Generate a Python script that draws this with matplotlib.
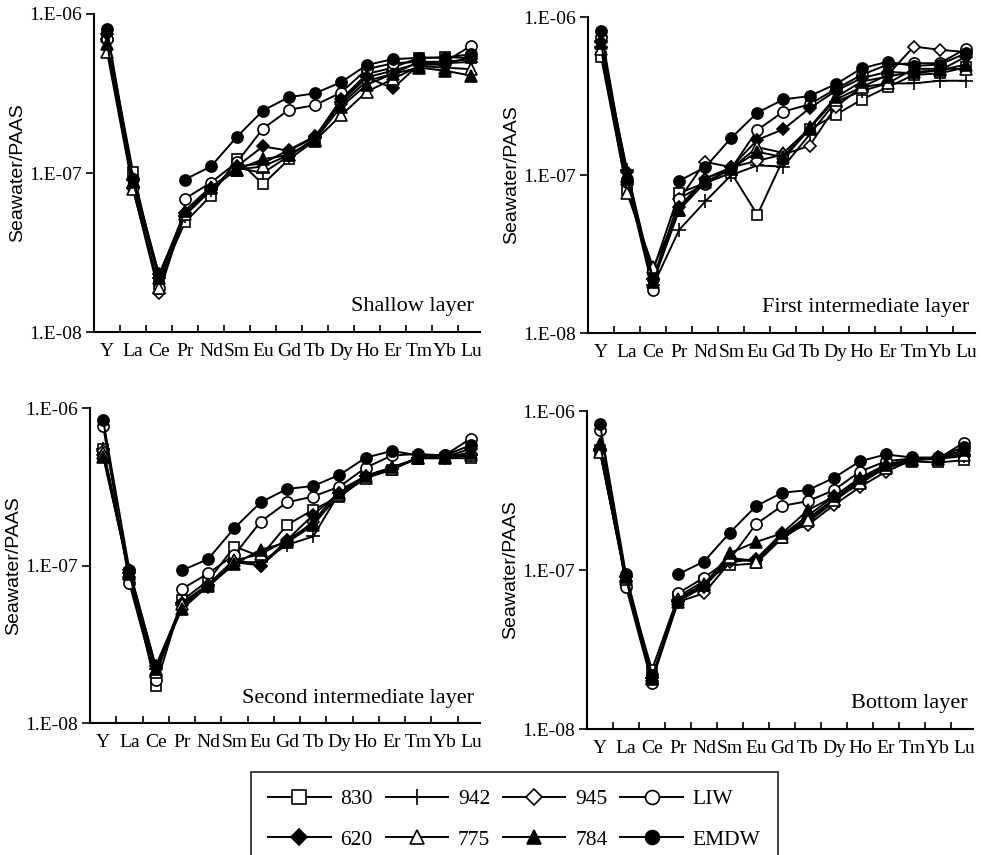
import matplotlib
matplotlib.use("Agg")
import matplotlib.pyplot as plt
from matplotlib.lines import Line2D
import numpy as np

elements = ["Y", "La", "Ce", "Pr", "Nd", "Sm", "Eu", "Gd", "Tb", "Dy", "Ho", "Er", "Tm", "Yb", "Lu"]
series_names = ["830", "942", "945", "LIW", "620", "775", "784", "EMDW"]
panel_titles = ["Shallow layer", "First intermediate layer", "Second intermediate layer", "Bottom layer"]
ytick_values = [1e-8, 1e-7, 1e-6]
ytick_labels = ["1.E-08", "1.E-07", "1.E-06"]

# ---- Shallow layer ----
s830 = [7.2e-7, 1.02e-7, 2.1e-8, 4.9e-8, 7.2e-8, 1.22e-7, 8.5e-8, 1.22e-7, 1.6e-7, 2.9e-7, 4.2e-7, 4.6e-7, 5.3e-7, 5.35e-7, 5.3e-7]
s942 = [7.0e-7, 9.0e-8, 2.2e-8, 5.4e-8, 7.8e-8, 1.08e-7, 1.0e-7, 1.28e-7, 1.65e-7, 2.8e-7, 4.0e-7, 4.4e-7, 4.9e-7, 4.9e-7, 5.0e-7]
s945 = [6.8e-7, 8.0e-8, 1.75e-8, 5.6e-8, 8.0e-8, 1.1e-7, 1.15e-7, 1.4e-7, 1.7e-7, 2.7e-7, 3.8e-7, 4.2e-7, 5.0e-7, 5.0e-7, 5.2e-7]
sLIW = [7.0e-7, 8.2e-8, 1.9e-8, 6.9e-8, 8.7e-8, 1.17e-7, 1.9e-7, 2.5e-7, 2.67e-7, 3.2e-7, 4.5e-7, 4.9e-7, 5.0e-7, 5.0e-7, 6.3e-7]
s620 = [7.5e-7, 9.2e-8, 2.3e-8, 5.6e-8, 8.0e-8, 1.1e-7, 1.47e-7, 1.38e-7, 1.68e-7, 2.9e-7, 4.0e-7, 3.4e-7, 4.8e-7, 4.8e-7, 5.4e-7]
s775 = [5.8e-7, 7.9e-8, 1.9e-8, 5.5e-8, 8.0e-8, 1.05e-7, 1.1e-7, 1.3e-7, 1.6e-7, 2.3e-7, 3.25e-7, 3.9e-7, 4.7e-7, 4.6e-7, 4.5e-7]
s784 = [6.5e-7, 8.8e-8, 2.2e-8, 5.8e-8, 8.2e-8, 1.05e-7, 1.22e-7, 1.3e-7, 1.62e-7, 2.6e-7, 3.6e-7, 4.2e-7, 4.6e-7, 4.4e-7, 4.1e-7]
sEMDW = [8.1e-7, 9.2e-8, 2.3e-8, 9.1e-8, 1.1e-7, 1.69e-7, 2.47e-7, 3.0e-7, 3.17e-7, 3.72e-7, 4.78e-7, 5.2e-7, 5.3e-7, 5.3e-7, 5.6e-7]

# ---- First intermediate layer ----
f830 = [5.6e-7, 8.0e-8, 2.5e-8, 7.7e-8, 8.9e-8, 1.03e-7, 5.6e-8, 1.27e-7, 1.95e-7, 2.4e-7, 3.0e-7, 3.6e-7, 4.3e-7, 4.4e-7, 4.8e-7]
f942 = [6.5e-7, 1.08e-7, 2.0e-8, 4.5e-8, 6.8e-8, 1.0e-7, 1.15e-7, 1.13e-7, 1.8e-7, 2.9e-7, 3.4e-7, 3.8e-7, 3.8e-7, 3.95e-7, 3.95e-7]
f945 = [7.0e-7, 9.0e-8, 2.2e-8, 7.0e-8, 1.21e-7, 1.12e-7, 1.23e-7, 1.35e-7, 1.53e-7, 2.7e-7, 3.6e-7, 4.3e-7, 6.5e-7, 6.2e-7, 6.0e-7]
fLIW = [7.5e-7, 9.0e-8, 1.87e-8, 7.1e-8, 8.8e-8, 1.1e-7, 1.93e-7, 2.52e-7, 2.8e-7, 3.5e-7, 4.3e-7, 5.0e-7, 5.1e-7, 5.1e-7, 6.3e-7]
f620 = [6.9e-7, 1.05e-7, 2.2e-8, 6.3e-8, 9.5e-8, 1.12e-7, 1.67e-7, 1.95e-7, 2.64e-7, 3.4e-7, 4.1e-7, 4.5e-7, 4.4e-7, 4.6e-7, 5.6e-7]
f775 = [6.3e-7, 7.7e-8, 2.6e-8, 6.0e-8, 9.5e-8, 1.1e-7, 1.5e-7, 1.38e-7, 1.97e-7, 3.0e-7, 3.6e-7, 3.8e-7, 4.7e-7, 4.7e-7, 4.7e-7]
f784 = [6.8e-7, 9.5e-8, 2.1e-8, 6.0e-8, 9.0e-8, 1.1e-7, 1.4e-7, 1.3e-7, 2.0e-7, 3.1e-7, 3.9e-7, 4.2e-7, 4.5e-7, 4.6e-7, 5.0e-7]
fEMDW = [8.2e-7, 9.5e-8, 2.2e-8, 9.2e-8, 1.12e-7, 1.72e-7, 2.48e-7, 3.01e-7, 3.16e-7, 3.75e-7, 4.73e-7, 5.21e-7, 4.9e-7, 5.0e-7, 5.9e-7]

# ---- Second intermediate layer ----
t830 = [5.5e-7, 9.0e-8, 1.71e-8, 6.0e-8, 8.0e-8, 1.32e-7, 1.14e-7, 1.81e-7, 2.26e-7, 2.74e-7, 3.6e-7, 4.04e-7, 4.9e-7, 4.8e-7, 4.8e-7]
t942 = [5.5e-7, 9.0e-8, 2.2e-8, 5.8e-8, 7.5e-8, 1.05e-7, 1.05e-7, 1.35e-7, 1.53e-7, 2.9e-7, 3.7e-7, 4.2e-7, 4.8e-7, 4.9e-7, 5.0e-7]
t945 = [5.3e-7, 8.5e-8, 2.0e-8, 5.8e-8, 7.5e-8, 1.1e-7, 9.9e-8, 1.4e-7, 1.9e-7, 3.0e-7, 3.7e-7, 4.1e-7, 4.8e-7, 4.8e-7, 5.1e-7]
tLIW = [7.7e-7, 7.7e-8, 1.87e-8, 7.1e-8, 8.9e-8, 1.17e-7, 1.9e-7, 2.52e-7, 2.74e-7, 3.17e-7, 4.18e-7, 5.0e-7, 5.1e-7, 5.0e-7, 6.4e-7]
t620 = [5.0e-7, 9.3e-8, 2.3e-8, 5.6e-8, 7.3e-8, 1.05e-7, 1.0e-7, 1.45e-7, 2.1e-7, 2.9e-7, 3.7e-7, 4.1e-7, 4.8e-7, 4.9e-7, 5.5e-7]
t775 = [5.2e-7, 8.8e-8, 2.1e-8, 5.7e-8, 7.6e-8, 1.08e-7, 1.18e-7, 1.45e-7, 1.85e-7, 2.8e-7, 3.6e-7, 4.1e-7, 4.8e-7, 4.8e-7, 5.0e-7]
t784 = [4.9e-7, 9.0e-8, 2.2e-8, 5.3e-8, 7.4e-8, 1.02e-7, 1.26e-7, 1.4e-7, 1.8e-7, 2.9e-7, 3.7e-7, 4.2e-7, 4.8e-7, 4.9e-7, 5.2e-7]
tEMDW = [8.4e-7, 9.4e-8, 2.3e-8, 9.3e-8, 1.1e-7, 1.73e-7, 2.52e-7, 3.06e-7, 3.2e-7, 3.76e-7, 4.84e-7, 5.34e-7, 5.0e-7, 5.0e-7, 5.8e-7]

# ---- Bottom layer ----
b830 = [5.67e-7, 8.5e-8, 2.36e-8, 6.8e-8, 8.5e-8, 1.07e-7, 1.1e-7, 1.58e-7, 2.0e-7, 2.68e-7, 3.67e-7, 4.4e-7, 4.81e-7, 4.75e-7, 4.9e-7]
b942 = [5.7e-7, 9.0e-8, 2.1e-8, 6.5e-8, 8.0e-8, 1.15e-7, 1.15e-7, 1.65e-7, 2.1e-7, 2.8e-7, 3.6e-7, 4.5e-7, 5.0e-7, 5.0e-7, 5.2e-7]
b945 = [5.6e-7, 8.5e-8, 2.0e-8, 6.3e-8, 7.14e-8, 1.12e-7, 1.17e-7, 1.7e-7, 1.92e-7, 2.56e-7, 3.33e-7, 4.16e-7, 4.9e-7, 5.0e-7, 5.4e-7]
bLIW = [7.57e-7, 7.86e-8, 1.94e-8, 7.14e-8, 8.95e-8, 1.17e-7, 1.94e-7, 2.53e-7, 2.71e-7, 3.18e-7, 4.16e-7, 4.83e-7, 5.03e-7, 5.0e-7, 6.33e-7]
b620 = [5.8e-7, 9.2e-8, 2.1e-8, 6.4e-8, 7.8e-8, 1.18e-7, 1.15e-7, 1.65e-7, 2.2e-7, 2.9e-7, 3.7e-7, 4.5e-7, 5.0e-7, 5.1e-7, 5.6e-7]
b775 = [5.5e-7, 8.8e-8, 2.05e-8, 6.6e-8, 8.2e-8, 1.2e-7, 1.12e-7, 1.62e-7, 2.05e-7, 2.75e-7, 3.5e-7, 4.4e-7, 4.9e-7, 5.1e-7, 5.3e-7]
b784 = [6.2e-7, 9.0e-8, 2.1e-8, 6.3e-8, 8.0e-8, 1.28e-7, 1.5e-7, 1.7e-7, 2.38e-7, 2.9e-7, 3.8e-7, 4.6e-7, 5.0e-7, 5.0e-7, 5.7e-7]
bEMDW = [8.25e-7, 9.4e-8, 2.2e-8, 9.4e-8, 1.13e-7, 1.72e-7, 2.52e-7, 3.06e-7, 3.18e-7, 3.8e-7, 4.83e-7, 5.33e-7, 5.1e-7, 5.1e-7, 5.94e-7]

panels = [
    [s830, s942, s945, sLIW, s620, s775, s784, sEMDW],
    [f830, f942, f945, fLIW, f620, f775, f784, fEMDW],
    [t830, t942, t945, tLIW, t620, t775, t784, tEMDW],
    [b830, b942, b945, bLIW, b620, b775, b784, bEMDW],
]

# style per series: marker, facecolor, size
styles = {
    "830": dict(marker="s", mfc="white", ms=7.5),
    "942": dict(marker="+", mfc="black", ms=10),
    "945": dict(marker="D", mfc="white", ms=6.5),
    "LIW": dict(marker="o", mfc="white", ms=8),
    "620": dict(marker="D", mfc="black", ms=6.5),
    "775": dict(marker="^", mfc="white", ms=8),
    "784": dict(marker="^", mfc="black", ms=8),
    "EMDW": dict(marker="o", mfc="black", ms=8),
}
broken_after_ce = {"LIW", "EMDW"}

serif = ["Liberation Serif", "DejaVu Serif"]
sans = ["Liberation Sans", "DejaVu Sans"]

W, H = 981, 855
fig = plt.figure(figsize=(W / 100, H / 100), dpi=100)

# axes boxes in pixels: left, top, right, bottom
boxes = [
    (94, 14, 480, 332),
    (588, 17, 975, 333),
    (90, 408, 480, 723),
    (587, 411, 973, 729),
]

x = np.arange(len(elements))
for pi, (l, t, r, b) in enumerate(boxes):
    ax = fig.add_axes([l / W, 1 - b / H, (r - l) / W, (b - t) / H])
    for name, vals in zip(series_names, panels[pi]):
        st = styles[name]
        v = np.array(vals)
        kw = dict(color="black", lw=1.4, marker=st["marker"], mfc=st["mfc"],
                  mec="black", mew=1.2, ms=st["ms"])
        if name in broken_after_ce:
            ax.plot(x[:3], v[:3], **kw)
            ax.plot(x[3:], v[3:], **kw)
        else:
            ax.plot(x, v, **kw)
    ax.set_yscale("log")
    ax.set_ylim(1e-8, 1e-6)
    ax.set_xlim(-0.5, 14.35)
    ax.yaxis.set_major_locator(matplotlib.ticker.FixedLocator(ytick_values))
    ax.yaxis.set_minor_locator(matplotlib.ticker.NullLocator())
    ax.set_yticklabels(ytick_labels, fontfamily=serif, fontsize=14)
    ax.set_xticks(x)
    ax.set_xticklabels(elements, fontfamily=serif, fontsize=14)
    ax.set_xticks(np.arange(0.5, 14, 1), minor=True)
    ax.tick_params(axis="x", which="major", length=0, pad=8)
    ax.tick_params(axis="x", which="minor", direction="in", length=5, width=1.2)
    ax.tick_params(axis="y", which="major", direction="out", length=6, width=1.2, pad=3)
    for sp in ["top", "right"]:
        ax.spines[sp].set_visible(False)
    for sp in ["left", "bottom"]:
        ax.spines[sp].set_linewidth(1.5)
    ax.set_ylabel("Seawater/PAAS", fontfamily=sans, fontsize=14)
    ax.yaxis.set_label_coords(-0.175, 0.5)
    ax.text(0.985, 0.065, panel_titles[pi], transform=ax.transAxes, ha="right",
            va="baseline", fontfamily=serif, fontsize=16)

# legend
order = ["830", "620", "942", "775", "945", "784", "LIW", "EMDW"]
handles = []
for name in order:
    st = styles[name]
    handles.append(Line2D([], [], color="black", lw=1.4, marker=st["marker"], mfc=st["mfc"],
                          mec="black", mew=1.2, ms=st["ms"] + 2))
leg = fig.legend(handles, order, loc="upper left", bbox_to_anchor=(251 / W, 1 - 772 / H),
                 borderaxespad=0.0,
                 ncol=4, frameon=True, fancybox=False, edgecolor="black",
                 prop={"family": serif, "size": 15.5}, handlelength=2.9, handletextpad=0.45,
                 columnspacing=0.6, labelspacing=0.95, borderpad=0.8)
leg.get_frame().set_linewidth(1.3)

fig.savefig("out.png", dpi=100)
